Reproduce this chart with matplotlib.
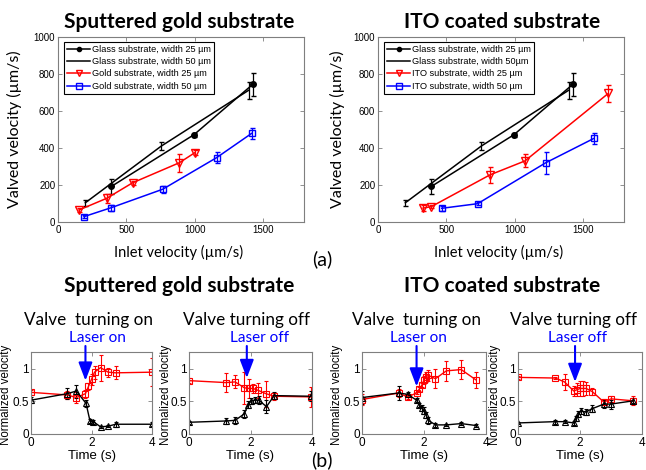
import matplotlib
matplotlib.use("Agg")
import matplotlib.pyplot as plt

# ---------------- data (top row) ----------------
glass25_x = [390, 995, 1425]
glass25_y = [192, 472, 744]
glass25_e = [40, 10, 62]
glass50_x = [200, 755, 1395]
glass50_y = [104, 410, 712]
glass50_e = [15, 20, 45]

gold25_x = [154, 356, 546, 887, 1002]
gold25_y = [65, 128, 212, 320, 375]
gold25_e = [10, 25, 10, 48, 15]
gold50_x = [190, 388, 766, 1161, 1417]
gold50_y = [29, 77, 177, 348, 479]
gold50_e = [10, 15, 20, 30, 30]

ito25_x = [330, 390, 820, 1075, 1685]
ito25_y = [75, 83, 255, 330, 695]
ito25_e = [15, 10, 45, 35, 45]
ito50_x = [466, 729, 1227, 1580]
ito50_y = [74, 99, 320, 452]
ito50_e = [15, 8, 60, 30]

legend_gold = ["Glass substrate, width 25 \u00b5m", "Glass substrate, width 50 \u00b5m",
               "Gold substrate, width 25 \u00b5m", "Gold substrate, width 50 \u00b5m"]
legend_ito = ["Glass substrate, width 25 \u00b5m", "Glass substrate, width 50\u00b5m",
              "ITO substrate, width 25 \u00b5m", "ITO substrate, width 50 \u00b5m"]

# ---------------- data (bottom row) ----------------
# gold, valve turning on
g_on_red_t = [0, 1.2, 1.5, 1.8, 1.9, 2.0, 2.1, 2.3, 2.55, 2.8, 4.0]
g_on_red_v = [0.64, 0.6, 0.56, 0.62, 0.73, 0.84, 0.95, 1.02, 0.95, 0.94, 0.95]
g_on_red_e = [0.04, 0.06, 0.08, 0.06, 0.05, 0.08, 0.1, 0.2, 0.07, 0.1, 0.22]
g_on_blk_t = [0, 1.2, 1.5, 1.82, 1.95, 2.06, 2.3, 2.55, 2.8, 4.0]
g_on_blk_v = [0.52, 0.62, 0.66, 0.47, 0.2, 0.19, 0.11, 0.12, 0.15, 0.15]
g_on_blk_e = [0.05, 0.08, 0.1, 0.05, 0.03, 0.03, 0.02, 0.02, 0.04, 0.03]
# gold, valve turning off
g_off_red_t = [0, 1.2, 1.5, 1.8, 1.95, 2.08, 2.25, 2.5, 2.78, 3.97]
g_off_red_v = [0.82, 0.79, 0.8, 0.71, 0.7, 0.7, 0.67, 0.62, 0.58, 0.57]
g_off_red_e = [0.04, 0.14, 0.1, 0.25, 0.15, 0.07, 0.12, 0.2, 0.05, 0.15]
g_off_blk_t = [0, 1.2, 1.5, 1.8, 1.92, 2.03, 2.14, 2.27, 2.52, 2.77, 3.97]
g_off_blk_v = [0.18, 0.2, 0.21, 0.31, 0.45, 0.51, 0.52, 0.52, 0.42, 0.59, 0.58]
g_off_blk_e = [0.02, 0.05, 0.05, 0.06, 0.05, 0.05, 0.05, 0.06, 0.1, 0.05, 0.08]
# ITO, valve turning on
i_on_t = [0, 1.18, 1.47, 1.76, 1.85, 1.93, 2.0, 2.07, 2.14, 2.37, 2.72, 3.2, 3.68]
i_on_red_v = [0.53, 0.63, 0.57, 0.63, 0.69, 0.75, 0.83, 0.88, 0.9, 0.85, 0.97, 0.99, 0.83]
i_on_red_e = [0.08, 0.06, 0.03, 0.02, 0.03, 0.03, 0.06, 0.08, 0.08, 0.15, 0.15, 0.15, 0.12]
i_on_blk_v = [0.56, 0.63, 0.61, 0.52, 0.44, 0.4, 0.36, 0.29, 0.21, 0.14, 0.14, 0.16, 0.13]
i_on_blk_e = [0.1, 0.1, 0.04, 0.03, 0.03, 0.05, 0.05, 0.05, 0.05, 0.03, 0.02, 0.02, 0.02]
# ITO, valve turning off
i_off_red_t = [0, 1.2, 1.5, 1.8, 1.9, 2.0, 2.1, 2.2, 2.4, 2.77, 3.0, 3.72]
i_off_red_v = [0.87, 0.86, 0.8, 0.66, 0.68, 0.7, 0.7, 0.7, 0.65, 0.49, 0.54, 0.51]
i_off_red_e = [0.02, 0.02, 0.12, 0.07, 0.1, 0.12, 0.12, 0.1, 0.05, 0.05, 0.05, 0.07]
i_off_blk_t = [0, 1.2, 1.5, 1.8, 1.87, 1.95, 2.03, 2.19, 2.4, 2.77, 3.0, 3.72]
i_off_blk_v = [0.17, 0.19, 0.19, 0.17, 0.24, 0.31, 0.35, 0.34, 0.39, 0.46, 0.46, 0.51]
i_off_blk_e = [0.02, 0.03, 0.02, 0.03, 0.04, 0.05, 0.05, 0.05, 0.05, 0.06, 0.07, 0.04]

# arrow tips (time, value)
arrow_tips = [(1.8, 0.82), (1.88, 0.86), (1.76, 0.73), (1.84, 0.8)]

W, H = 646, 470
fig = plt.figure(figsize=(W / 100, H / 100), dpi=100)

TF = "Lato"
AF = "Liberation Sans"
RED = "#ff0000"
BLUE = "#0000ff"
SPINE = "#7f7f7f"


def px_axes(l, r, t, b):
    return fig.add_axes([l / W, (H - b) / H, (r - l) / W, (b - t) / H])


def style(ax, fs, xpad=2, ypad=2):
    for s in ax.spines.values():
        s.set_color(SPINE)
        s.set_linewidth(0.8)
    ax.tick_params(direction="in", top=True, right=True, length=3, width=0.6,
                   color=SPINE, labelsize=fs)
    ax.tick_params(axis="x", pad=xpad)
    ax.tick_params(axis="y", pad=ypad)
    for lab in ax.get_xticklabels() + ax.get_yticklabels():
        lab.set_fontfamily(AF)


def top_plot(ax, s25x, s25y, s25e, s50x, s50y, s50e, labels):
    c1 = ax.errorbar(glass25_x, glass25_y, yerr=glass25_e, color="k", marker="o", ms=4,
                     lw=1.1, capsize=1.8, elinewidth=0.9)
    c2 = ax.errorbar(glass50_x, glass50_y, yerr=glass50_e, color="k", lw=1.1,
                     capsize=1.8, elinewidth=0.9)
    c3 = ax.errorbar(s25x, s25y, yerr=s25e, color=RED, marker="v", ms=6, mfc="none",
                     lw=1.1, capsize=1.8, elinewidth=0.9)
    c4 = ax.errorbar(s50x, s50y, yerr=s50e, color=BLUE, marker="s", ms=5, mfc="none",
                     lw=1.1, capsize=1.8, elinewidth=0.9)
    ax.set_xlim(0, 1800)
    ax.set_ylim(0, 1000)
    ax.set_xticks([0, 500, 1000, 1500])
    ax.set_yticks([0, 200, 400, 600, 800, 1000])
    style(ax, 7)
    leg = ax.legend([c1[0], c2[0], c3[0], c4[0]], labels,
                    loc="upper left", bbox_to_anchor=(0.024, 0.975), borderaxespad=0,
                    prop={"family": AF, "size": 6.6}, frameon=True, fancybox=False,
                    framealpha=1, edgecolor="k", handlelength=2.5, handletextpad=0.2,
                    labelspacing=0.36, borderpad=0.35, markerscale=0.75)
    leg.get_frame().set_linewidth(0.8)
    ax.set_xlabel("Inlet velocity (\u00b5m/s)", fontfamily=TF, fontsize=10.5)
    ax.set_ylabel("Valved velocity (\u00b5m/s)", fontfamily=TF, fontsize=11.5)


ax1 = px_axes(58, 304, 37, 222)
top_plot(ax1, gold25_x, gold25_y, gold25_e, gold50_x, gold50_y, gold50_e, legend_gold)
ax1.yaxis.set_label_coords(-0.145, 0.5)
ax1.xaxis.set_label_coords(0.49, -0.125)

ax2 = px_axes(378, 624, 37, 222)
top_plot(ax2, ito25_x, ito25_y, ito25_e, ito50_x, ito50_y, ito50_e, legend_ito)
ax2.yaxis.set_label_coords(-0.135, 0.5)
ax2.xaxis.set_label_coords(0.49, -0.125)


def fig_text(x, y, s, **kw):
    fig.text(x / W, 1 - y / H, s, ha="center", va="center", **kw)


fig_text(179, 22, "Sputtered gold substrate", fontfamily=TF, fontsize=15, fontweight="bold")
fig_text(502, 22, "ITO coated substrate", fontfamily=TF, fontsize=15, fontweight="bold")
fig_text(322, 259, "(a)", fontfamily=TF, fontsize=14)
fig_text(179, 286, "Sputtered gold substrate", fontfamily=TF, fontsize=15, fontweight="bold")
fig_text(502, 286, "ITO coated substrate", fontfamily=TF, fontsize=15, fontweight="bold")
fig_text(322, 460, "(b)", fontfamily=TF, fontsize=14)

bottom_boxes = [(31, 152), (189, 312), (362, 486), (518, 642)]
bottom_data = [
    (g_on_red_t, g_on_red_v, g_on_red_e, g_on_blk_t, g_on_blk_v, g_on_blk_e),
    (g_off_red_t, g_off_red_v, g_off_red_e, g_off_blk_t, g_off_blk_v, g_off_blk_e),
    (i_on_t, i_on_red_v, i_on_red_e, i_on_t, i_on_blk_v, i_on_blk_e),
    (i_off_red_t, i_off_red_v, i_off_red_e, i_off_blk_t, i_off_blk_v, i_off_blk_e),
]
titles = ["Valve  turning on", "Valve turning off", "Valve  turning on", "Valve turning off"]
title_x = [89, 247, 416, 573]
laser = ["Laser on", "Laser off", "Laser on", "Laser off"]
laser_x = [97, 259, 418, 577]
ylab_x = [-0.155, -0.14, -0.15, -0.14]

for i, ((l, r), d) in enumerate(zip(bottom_boxes, bottom_data)):
    ax = px_axes(l, r, 352, 434)
    rt, rv, re, bt, bv, be = d
    ax.errorbar(rt, rv, yerr=re, color=RED, marker="s", ms=4, mfc="none", lw=1.0,
                capsize=1.5, elinewidth=0.8, mew=0.8)
    ax.errorbar(bt, bv, yerr=be, color="k", marker="^", ms=4.5, mfc="none", lw=1.0,
                capsize=1.5, elinewidth=0.8, mew=0.8)
    ax.set_xlim(0, 4)
    ax.set_ylim(0, 1.26)
    ax.set_xticks([0, 2, 4])
    ax.set_yticks([0, 0.5, 1])
    ax.set_yticklabels(["0", "0.5", "1"])
    style(ax, 8.5, xpad=2.5, ypad=1.5)
    ax.set_xlabel("Time (s)", fontfamily=AF, fontsize=9.5)
    ax.set_ylabel("Normalized velocity", fontfamily=AF, fontsize=8.3)
    ax.xaxis.set_label_coords(0.5, -0.2)
    ax.yaxis.set_label_coords(ylab_x[i], 0.48)
    fig_text(title_x[i], 320, titles[i], fontfamily=TF, fontsize=12.3)
    fig_text(laser_x[i], 338, laser[i], fontfamily=TF, fontsize=11, color=BLUE)
    tx, tv = arrow_tips[i]
    disp = ax.transData.transform((tx, tv))
    fx = disp[0] / fig.bbox.width
    ax.annotate("", xy=(tx, tv), xycoords="data",
                xytext=(fx, 1 - 346 / H), textcoords="figure fraction",
                annotation_clip=False,
                arrowprops=dict(arrowstyle="-|>,head_length=1.1,head_width=0.42",
                                color=BLUE, lw=1.5, mutation_scale=10,
                                shrinkA=0, shrinkB=0))

fig.savefig("out.png", dpi=100)
